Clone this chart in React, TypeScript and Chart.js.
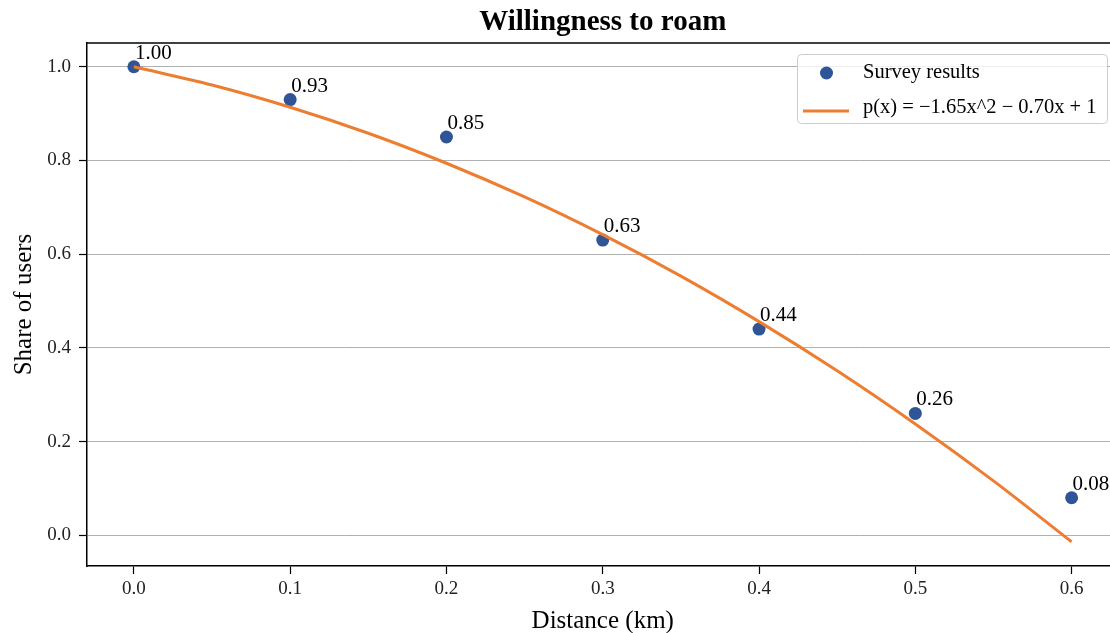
import React, { useEffect, useRef } from "react";
import { Chart, registerables } from "chart.js";

Chart.register(...registerables);

// Survey data
const distances = [0, 0.1, 0.2, 0.3, 0.4, 0.5, 0.6];
const shares = [1.0, 0.93, 0.85, 0.63, 0.44, 0.26, 0.08];
const shareLabels = ["1.00", "0.93", "0.85", "0.63", "0.44", "0.26", "0.08"];

// Fitted quadratic p(x) = -1.65x^2 - 0.70x + 1, sampled values
const fitX = [0, 0.05, 0.1, 0.15, 0.2, 0.25, 0.3, 0.35, 0.4, 0.45, 0.5, 0.55, 0.6];
const fitY = [1.0, 0.961, 0.9135, 0.858, 0.794, 0.722, 0.6415, 0.553, 0.456, 0.351, 0.2375, 0.116, -0.014];

const xTicks = [0, 0.1, 0.2, 0.3, 0.4, 0.5, 0.6];
const yTicks = [0, 0.2, 0.4, 0.6, 0.8, 1.0];

const titleText = "Willingness to roam";
const xTitle = "Distance (km)";
const yTitle = "Share of users";
const seriesName = "Survey results";
const fitName = "p(x) = \u22121.65x^2 \u2212 0.70x + 1";

const BLUE = "#2f5597";
const ORANGE = "#ed7d31";
const FONT = "'Liberation Serif', 'Times New Roman', serif";

const W = 1125;
const H = 633;
const LEFT = 87;
const RIGHT = 1119;
const TOP = 43;
const BOTTOM = 566;

export default function App() {
  const ref = useRef<HTMLCanvasElement | null>(null);

  useEffect(() => {
    document.body.style.margin = "0";
    const canvas = ref.current;
    if (!canvas) return;

    const overlay = {
      id: "overlay",
      afterDatasetsDraw(chart: any) {
        const ctx = chart.ctx;
        const xs = chart.scales.x;
        const ys = chart.scales.y;
        const area = chart.chartArea;
        ctx.save();
        // data labels
        ctx.fillStyle = "#000";
        ctx.font = `21px ${FONT}`;
        ctx.textAlign = "left";
        ctx.textBaseline = "alphabetic";
        distances.forEach((d, i) => {
          const px = xs.getPixelForValue(d);
          const py = ys.getPixelForValue(shares[i]);
          ctx.fillText(shareLabels[i], px + 1, py - 8);
        });
        // top / right spines
        ctx.strokeStyle = "#000";
        ctx.lineWidth = 1.5;
        ctx.beginPath();
        ctx.moveTo(area.left - 0.75, area.top);
        ctx.lineTo(area.right + 0.75, area.top);
        ctx.stroke();
        ctx.beginPath();
        ctx.moveTo(area.right, area.top);
        ctx.lineTo(area.right, area.bottom);
        ctx.stroke();

        // legend
        const lx = 797, ly = 54, lw = 310, lh = 69;
        ctx.fillStyle = "rgba(255,255,255,0.8)";
        ctx.strokeStyle = "#cccccc";
        ctx.lineWidth = 1;
        ctx.beginPath();
        (ctx as any).roundRect(lx + 0.5, ly + 0.5, lw, lh, 4);
        ctx.fill();
        ctx.stroke();
        ctx.fillStyle = BLUE;
        ctx.beginPath();
        ctx.arc(826.5, 73, 6.5, 0, Math.PI * 2);
        ctx.fill();
        ctx.strokeStyle = ORANGE;
        ctx.lineWidth = 3;
        ctx.beginPath();
        ctx.moveTo(803, 111);
        ctx.lineTo(849, 111);
        ctx.stroke();
        ctx.fillStyle = "#000";
        ctx.font = `20.5px ${FONT}`;
        ctx.textBaseline = "middle";
        ctx.textAlign = "left";
        ctx.fillText(seriesName, 863, 73);
        ctx.fillText(fitName, 863, 108);

        // title
        const cx = (area.left + area.right) / 2;
        ctx.font = `bold 29px ${FONT}`;
        ctx.textAlign = "center";
        ctx.textBaseline = "alphabetic";
        ctx.fillText(titleText, cx, 30);
        // x title
        ctx.font = `25px ${FONT}`;
        ctx.fillText(xTitle, cx, 628);
        // y title
        ctx.save();
        ctx.translate(31, (area.top + area.bottom) / 2);
        ctx.rotate(-Math.PI / 2);
        ctx.fillText(yTitle, 0, 0);
        ctx.restore();
        ctx.restore();
      },
    };

    const chart = new Chart(canvas, {
      type: "scatter",
      data: {
        datasets: [
          {
            type: "line",
            label: fitName,
            data: fitX.map((x, i) => ({ x, y: fitY[i] })),
            borderColor: ORANGE,
            backgroundColor: ORANGE,
            borderWidth: 3,
            pointRadius: 0,
            cubicInterpolationMode: "monotone",
            fill: false,
            order: 0,
          } as any,
          {
            label: seriesName,
            data: distances.map((x, i) => ({ x, y: shares[i] })),
            backgroundColor: BLUE,
            borderColor: BLUE,
            pointRadius: 6.5,
            pointBorderWidth: 0,
            order: 1,
          },
        ],
      },
      options: {
        responsive: false,
        animation: false,
        devicePixelRatio: 1,
        layout: { padding: { left: 0, right: W - RIGHT, top: TOP, bottom: 0 } },
        plugins: {
          legend: { display: false },
          title: { display: false },
          tooltip: { enabled: false },
        },
        scales: {
          x: {
            type: "linear",
            min: -0.03,
            max: 0.63,
            afterFit: (s: any) => {
              s.height = H - BOTTOM;
            },
            afterBuildTicks: (s: any) => {
              s.ticks = xTicks.map((v) => ({ value: v }));
            },
            grid: {
              drawOnChartArea: false,
              drawTicks: true,
              tickLength: 8,
              tickColor: "#000",
              tickWidth: 1.2,
            },
            border: { display: true, color: "#000", width: 1.5 },
            ticks: {
              color: "#222",
              font: { family: FONT, size: 19 },
              padding: 4,
              maxRotation: 0,
              callback: (v: any) => Number(v).toFixed(1),
            },
          },
          y: {
            type: "linear",
            min: -0.0657,
            max: 1.0507,
            afterFit: (s: any) => {
              s.width = LEFT;
            },
            afterBuildTicks: (s: any) => {
              s.ticks = yTicks.map((v) => ({ value: v }));
            },
            grid: {
              drawOnChartArea: true,
              color: "#b0b0b0",
              lineWidth: 1,
              drawTicks: true,
              tickLength: 8,
              tickColor: "#000",
              tickWidth: 1.2,
            },
            border: { display: true, color: "#000", width: 1.5 },
            ticks: {
              color: "#222",
              font: { family: FONT, size: 19 },
              padding: 8,
              callback: (v: any) => Number(v).toFixed(1),
            },
          },
        },
      },
      plugins: [overlay],
    } as any);

    return () => chart.destroy();
  }, []);

  return (
    <div
      style={{
        position: "absolute",
        left: 0,
        top: 0,
        width: 1110,
        height: H,
        overflow: "hidden",
        background: "#fff",
      }}
    >
      <canvas ref={ref} width={W} height={H} style={{ display: "block", width: W, height: H }} />
    </div>
  );
}
